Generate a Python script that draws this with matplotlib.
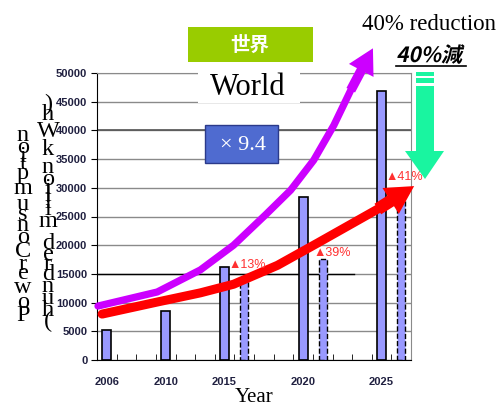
import matplotlib
matplotlib.use("Agg")
import matplotlib.pyplot as plt
import numpy as np
from matplotlib import font_manager, ft2font
from matplotlib.font_manager import FontProperties
from matplotlib.patches import Rectangle, Polygon, PathPatch
from matplotlib.textpath import TextPath
from matplotlib.transforms import Affine2D, IdentityTransform

# --- data (x = slot index on the category axis, y = 100 million kWh) ---
year_labels = ["2006", "2010", "2015", "2020", "2025"]
year_slots = [0, 3, 6, 10, 14]
actual = [5200, 8600, 16200, 28400, 46800]

target_slots = [7, 11, 15]
target = [14300, 17600, 27800]
cut_labels = ["▲13%", "▲39%", "▲41%"]
cut_label_x = [6.2, 10.54, 14.22]
cut_label_y = [16550, 18640, 31880]

# trend arrows (hand drawn in the original)
world_x = [-0.45, 2.57, 4.77, 6.46, 8.09, 9.37, 10.54, 11.57, 12.43, 13.56]
world_y = [9400, 11850, 15700, 20000, 25300, 29600, 34800, 40900, 47000, 54300]
saving_x = [-0.24, 2.57, 4.77, 6.46, 8.70, 10.75, 13.81, 15.66]
saving_y = [8000, 10100, 11700, 13200, 16500, 20400, 26300, 30300]

W, H = 497, 409
fig = plt.figure(figsize=(W / 100, H / 100), dpi=100)
ax = fig.add_axes([97 / W, 1 - 360 / H, (411 - 97) / W, (360 - 73) / H])

ax.set_xlim(-0.5, 15.5)
ax.set_ylim(0, 50000)

# grid
ax.yaxis.grid(True, color="#8a8a8a", lw=1)
ax.set_axisbelow(True)
ax.axhline(40000, color="#555555", lw=1.2, zorder=1)
ax.axhline(15000, xmax=0.82, color="black", lw=1, zorder=1)

# bars
ax.bar(year_slots, actual, width=0.46, color="#9999FF", edgecolor="black", lw=1.2, zorder=2)
ax.bar(target_slots, target, width=0.42, color="#9999FF", edgecolor="black", lw=1,
       linestyle="--", zorder=2)

for lab, x, y in zip(cut_labels, cut_label_x, cut_label_y):
    ax.text(x, y, lab, color="#FF3030", fontsize=9, ha="left", va="center",
            family=["Liberation Sans", "DejaVu Sans"], zorder=5)

# curves
ax.plot(world_x[:-1], world_y[:-1], color="#CC00FF", lw=5.2, solid_capstyle="round",
        solid_joinstyle="round", clip_on=False, zorder=4)
ax.annotate("", xy=(world_x[-1], world_y[-1]), xytext=(world_x[-2], world_y[-2]),
            arrowprops=dict(arrowstyle="simple,tail_width=0.35,head_width=1.0,head_length=0.9",
                            mutation_scale=20, color="#CC00FF", lw=0, shrinkA=0, shrinkB=0),
            annotation_clip=False, zorder=4)
ax.plot(saving_x[:-1], saving_y[:-1], color="#FF0000", lw=6.5, solid_capstyle="round",
        solid_joinstyle="round", clip_on=False, zorder=4)
ax.annotate("", xy=(saving_x[-1], saving_y[-1]), xytext=(saving_x[-2], saving_y[-2]),
            arrowprops=dict(arrowstyle="simple,tail_width=0.45,head_width=1.1,head_length=1.0",
                            mutation_scale=20, color="#FF0000", lw=0, shrinkA=0, shrinkB=0),
            annotation_clip=False, zorder=4)

# axes styling
for s in ["top", "right"]:
    ax.spines[s].set_color("#8a8a8a")
for s in ["left", "bottom"]:
    ax.spines[s].set_color("black")

tick_font = dict(family="Liberation Sans", weight="bold", size=8)
ax.set_yticks(np.arange(0, 50001, 5000))
ax.set_yticklabels([str(v) for v in range(0, 50001, 5000)], color="#202040", **tick_font)
ax.tick_params(axis="y", direction="out", length=4, pad=3)
ax.set_xticks(year_slots)
ax.set_xticklabels(year_labels, color="#202040", **tick_font)
ax.set_xticks(np.arange(0.5, 15, 1), minor=True)
ax.tick_params(axis="x", which="major", length=0, pad=12)
ax.tick_params(axis="x", which="minor", direction="in", length=4)
ax.set_xlabel("Year", family="Liberation Serif", size=15, labelpad=1)

# stacked upright y label columns
serif_path = font_manager.findfont(FontProperties(family="Liberation Serif"))


def column(text, x_pix, bottom_pix, size_pt):
    font = ft2font.FT2Font(serif_path)
    font.set_size(size_pt, 100)
    cum = 0.0
    for ch in text:
        adv = font.load_char(ord(ch)).linearHoriAdvance / 65536
        c = bottom_pix - cum - adv / 2
        if ch != " ":
            fig.text(x_pix / W, 1 - c / H, ch, ha="center", va="center",
                     family="Liberation Serif", size=size_pt)
        cum += adv


column("PowerConsumption", 23, 322, 17.5)
column("(hundred million kWh)", 48, 325, 17.5)


def fbox(x0, y0, x1, y1, **kw):
    fig.add_artist(Rectangle((x0 / W, 1 - y1 / H), (x1 - x0) / W, (y1 - y0) / H,
                             transform=fig.transFigure, **kw))


# World boxes
fbox(188, 27, 313, 62, facecolor="#99CC00", edgecolor="none")
fig.text(250 / W, 1 - 45 / H, "世界", color="white", ha="center", va="center",
         family="Noto Sans CJK JP", weight="bold", size=14)
fbox(198, 62, 300, 103, facecolor="white", edgecolor="none")
fig.text(248 / W, 1 - 95 / H, "World", ha="center", va="baseline",
         family="Liberation Serif", size=22)
fbox(205, 125, 278, 163, facecolor="#4F6BD0", edgecolor="#2B3A8A", lw=1)
fig.text(243 / W, 1 - 145 / H, "× 9.4", color="white", ha="center", va="center",
         family="Liberation Serif", size=16)

# 40% reduction
fig.text(362 / W, 1 - 30 / H, "40% reduction", ha="left", va="baseline",
         family="Liberation Serif", size=16.5)
tp = TextPath((0, 0), "40%減", size=21,
              prop=FontProperties(family="Noto Sans CJK JP", weight="bold"))
fig.add_artist(PathPatch(tp, facecolor="black", edgecolor="none",
                         transform=Affine2D().skew_deg(12, 0).translate(396, H - 62)
                         + IdentityTransform()))
fig.add_artist(plt.Line2D([396 / W, 466 / W], [1 - 66 / H, 1 - 66 / H], color="black",
                          lw=1.2, transform=fig.transFigure))

# green down arrow
green = "#19F5A0"
fbox(416, 72, 434, 152, facecolor=green, edgecolor="none")
fig.add_artist(Polygon([(405 / W, 1 - 151 / H), (444 / W, 1 - 151 / H), (425 / W, 1 - 179 / H)],
                       closed=True, transform=fig.transFigure, facecolor=green, edgecolor="none"))
fbox(415, 76, 435, 78, facecolor="white", edgecolor="none")
fbox(415, 83, 435, 86, facecolor="white", edgecolor="none")

fig.savefig("out.png", dpi=100)
